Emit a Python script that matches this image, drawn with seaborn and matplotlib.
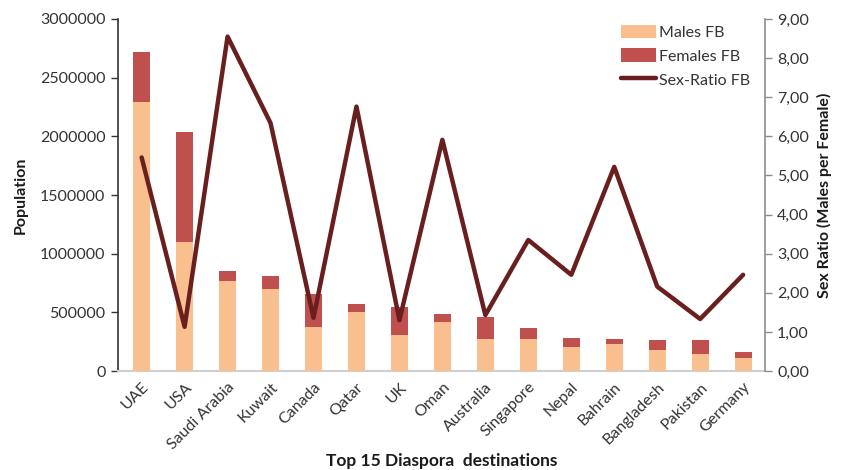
import matplotlib
matplotlib.use("Agg")
import matplotlib.pyplot as plt
import matplotlib.ticker as mticker
from matplotlib.patches import Patch
from matplotlib.lines import Line2D
import seaborn as sns
import pandas as pd

countries = ["UAE", "USA", "Saudi Arabia", "Kuwait", "Canada", "Qatar", "UK", "Oman",
             "Australia", "Singapore", "Nepal", "Bahrain", "Bangladesh", "Pakistan", "Germany"]
males = [2290000, 1100000, 770000, 700000, 378000, 500000, 307000, 415000,
         270000, 275000, 202000, 233000, 179000, 147000, 113000]
females = [430000, 940000, 83000, 110000, 276000, 71000, 241000, 74000,
           190000, 89000, 82000, 42000, 85000, 117000, 46000]
sex_ratio = [5.46, 1.13, 8.55, 6.34, 1.36, 6.76, 1.30, 5.91,
             1.43, 3.35, 2.46, 5.22, 2.16, 1.33, 2.46]

male_color = "#F9BF8F"
female_color = "#C0504D"
line_color = "#6A1F1F"

df = pd.DataFrame({"country": countries, "males": males, "females": females,
                   "ratio": sex_ratio})
df["total"] = df["males"] + df["females"]

sns.set_style("white")
plt.rcParams["font.family"] = ["Lato", "DejaVu Sans"]

fig = plt.figure(figsize=(8.43, 4.70), dpi=100)
ax = fig.add_axes([0.140, 0.2106, 0.767, 0.749])

# stacked bars: total (females on top) behind, males in front
sns.barplot(data=df, x="country", y="total", order=countries, color=female_color,
            width=0.4, saturation=1, linewidth=0, edgecolor="none", ax=ax, zorder=2)
sns.barplot(data=df, x="country", y="males", order=countries, color=male_color,
            width=0.4, saturation=1, linewidth=0, edgecolor="none", ax=ax, zorder=3)

ax.set_ylim(0, 3000000)
ax.set_xlim(-0.55, 14.5)
ax.yaxis.set_major_locator(mticker.MultipleLocator(500000))
ax.yaxis.set_major_formatter(mticker.FuncFormatter(lambda v, p: f"{int(v)}"))
ax.set_ylabel("Population", fontsize=11.5, fontweight="bold", color="#1a1a1a",
              labelpad=9)
ax.set_xlabel("Top 15 Diaspora  destinations", fontsize=12.5, fontweight="bold",
              color="#1a1a1a", labelpad=1)
ax.tick_params(axis="y", which="major", left=True, length=5, width=1,
               color="#333333", labelsize=11.5, labelcolor="#333333", pad=4)
ax.tick_params(axis="x", bottom=False, labelsize=11.5, labelcolor="#333333", pad=3)
plt.setp(ax.get_xticklabels(), rotation=45, ha="right", rotation_mode="anchor")

for side in ["top", "right"]:
    ax.spines[side].set_visible(False)
ax.spines["left"].set_color("#333333")
ax.spines["left"].set_linewidth(1.2)
ax.spines["bottom"].set_color("#cfcfcf")
ax.spines["bottom"].set_linewidth(1.5)

ax2 = ax.twinx()
sns.pointplot(data=df, x="country", y="ratio", order=countries, color=line_color,
              marker="", linewidth=3.2, ax=ax2, zorder=5)
ax2.set_ylim(0, 9)
ax2.set_xlim(-0.55, 14.5)
ax2.yaxis.set_major_locator(mticker.MultipleLocator(1))
ax2.yaxis.set_major_formatter(
    mticker.FuncFormatter(lambda v, p: f"{v:.2f}".replace(".", ",")))
ax2.set_ylabel("Sex Ratio (Males per Female)", fontsize=11.5, fontweight="bold",
               color="#1a1a1a", labelpad=6)
ax2.set_xlabel("")
ax2.tick_params(axis="y", right=True, length=5, width=1, color="#8c8c8c",
                labelsize=11.5, labelcolor="#333333", pad=4)
for side in ["top", "left", "bottom"]:
    ax2.spines[side].set_visible(False)
ax2.spines["right"].set_color("#8c8c8c")
ax2.spines["right"].set_linewidth(1.2)

handles = [Patch(facecolor=male_color, edgecolor="none", label="Males FB"),
           Patch(facecolor=female_color, edgecolor="none", label="Females FB"),
           Line2D([0], [0], color=line_color, lw=3.2, label="Sex-Ratio FB")]
ax2.legend(handles=handles, loc="upper right", bbox_to_anchor=(1.0, 1.025),
           frameon=False, fontsize=11.5, handlelength=2.2, handleheight=0.9,
           handletextpad=0.2, labelspacing=0.55, labelcolor="#333333")

fig.savefig("out.png", dpi=100)
